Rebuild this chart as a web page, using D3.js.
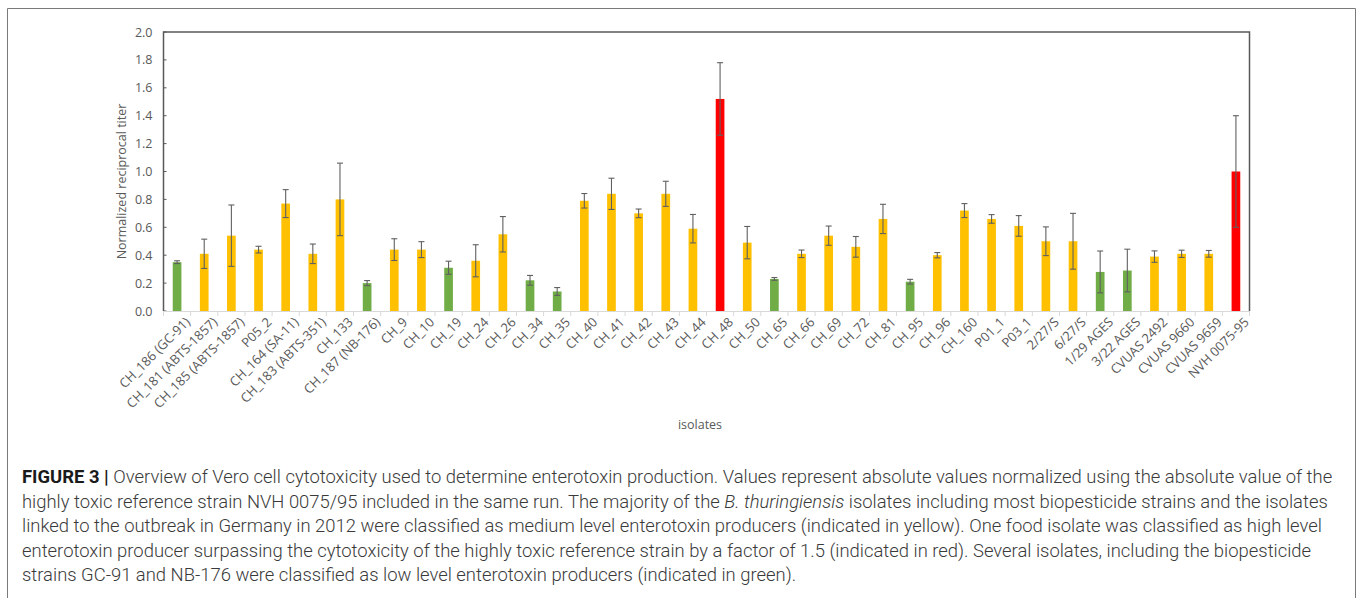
<!DOCTYPE html>
<html>
<head>
<meta charset="utf-8">
<script src="https://cdn.jsdelivr.net/npm/d3@7"></script>
<style>
  body { margin: 0; background: #fff; }
  svg { display: block; }
</style>
</head>
<body>
<svg></svg>
<script>
// размеры страницы
const width = 1358;
const height = 598;

// данные
const isolates = ["CH_186 (GC-91)", "CH_181 (ABTS-1857)", "CH_185 (ABTS-1857)", "P05_2", "CH_164 (SA-11)",
  "CH_183 (ABTS-351)", "CH_133", "CH_187 (NB-176)", "CH_9", "CH_10", "CH_19", "CH_24", "CH_26", "CH_34",
  "CH_35", "CH_40", "CH_41", "CH_42", "CH_43", "CH_44", "CH_48", "CH_50", "CH_65", "CH_66", "CH_69",
  "CH_72", "CH_81", "CH_95", "CH_96", "CH_160", "P01_1", "P03_1", "2/27/S", "6/27/S", "1/29 AGES",
  "3/22 AGES", "CVUAS 2492", "CVUAS 9660", "CVUAS 9659", "NVH 0075-95"];
const titers = [0.35, 0.41, 0.54, 0.44, 0.77, 0.41, 0.80, 0.20, 0.44, 0.44, 0.31, 0.36, 0.55, 0.22,
  0.14, 0.79, 0.84, 0.70, 0.84, 0.59, 1.52, 0.49, 0.23, 0.41, 0.54, 0.46, 0.66, 0.21, 0.40,
  0.72, 0.66, 0.61, 0.50, 0.50, 0.28, 0.29, 0.39, 0.41, 0.41, 1.00];
const errors = [0.01, 0.105, 0.22, 0.024, 0.10, 0.07, 0.26, 0.018, 0.078, 0.057, 0.047, 0.115, 0.127, 0.035,
  0.028, 0.052, 0.112, 0.031, 0.09, 0.102, 0.26, 0.116, 0.01, 0.027, 0.069, 0.074, 0.105, 0.017, 0.019,
  0.05, 0.031, 0.074, 0.103, 0.20, 0.15, 0.153, 0.041, 0.026, 0.024, 0.40];
const levels = ["low", "medium", "medium", "medium", "medium", "medium", "medium", "low", "medium", "medium",
  "low", "medium", "medium", "low", "low", "medium", "medium", "medium", "medium", "medium", "high",
  "medium", "low", "medium", "medium", "medium", "medium", "low", "medium", "medium", "medium", "medium",
  "medium", "medium", "low", "low", "medium", "medium", "medium", "high"];
const yTicks = [0, 0.2, 0.4, 0.6, 0.8, 1.0, 1.2, 1.4, 1.6, 1.8, 2.0];

const levelColor = {low: "#70ad47", medium: "#ffc000", high: "#ff0000"};

const captionLines = [
  [["FIGURE 3 | ", "b"], ["Overview of Vero cell cytotoxicity used to determine enterotoxin production. Values represent absolute values normalized using the absolute value of the", ""]],
  [["highly toxic reference strain NVH 0075/95 included in the same run. The majority of the ", ""], ["B. thuringiensis", "i"], [" isolates including most biopesticide strains and the isolates", ""]],
  [["linked to the outbreak in Germany in 2012 were classified as medium level enterotoxin producers (indicated in yellow). One food isolate was classified as high level", ""]],
  [["enterotoxin producer surpassing the cytotoxicity of the highly toxic reference strain by a factor of 1.5 (indicated in red). Several isolates, including the biopesticide", ""]],
  [["strains GC-91 and NB-176 were classified as low level enterotoxin producers (indicated in green).", ""]]
];

let svg = d3.select("svg")
    .attr("width", width)
    .attr("height", height);

// рамка вокруг рисунка
svg.append("path")
    .attr("d", `M7.5,${height + 5} V8.5 H1355.5 V${height + 5}`)
    .attr("fill", "none")
    .attr("stroke", "#7a7a7a")
    .attr("stroke-width", 1);

const plotLeft = 163.5, plotRight = 1249.5, plotTop = 32, plotBottom = 311;

let x = d3.scaleBand()
    .domain(isolates)
    .range([plotLeft, plotRight])
    .paddingInner(0.68)
    .paddingOuter(0.34);

let y = d3.scaleLinear()
    .domain([0, 2])
    .range([plotBottom, plotTop]);

const axisFont = "'Open Sans', sans-serif";
const axisColor = "#595959";

// ось y
let yAxis = svg.append("g")
    .attr("transform", `translate(${plotLeft},0)`)
    .call(d3.axisLeft(y).tickValues(yTicks).tickFormat(d3.format(".1f")).tickSize(0).tickPadding(11));
yAxis.select(".domain").remove();
yAxis.selectAll("text")
    .attr("fill", axisColor)
    .style("font-family", axisFont)
    .style("font-size", "12.5px");

// маленькие засечки внутрь
svg.append("g").selectAll("line")
    .data(yTicks)
    .join("line")
    .attr("x1", plotLeft)
    .attr("x2", plotLeft + 3)
    .attr("y1", d => y(d))
    .attr("y2", d => y(d))
    .attr("stroke", axisColor);

// ось x
let xAxis = svg.append("g")
    .attr("transform", `translate(0,${plotBottom})`)
    .call(d3.axisBottom(x).tickSize(0).tickPadding(8));
xAxis.select(".domain")
    .attr("stroke", "#d9d9d9");
xAxis.selectAll("text")
    .attr("fill", axisColor)
    .style("font-family", axisFont)
    .style("font-size", "13px")
    .attr("text-anchor", "end")
    .attr("dy", "0.35em")
    .attr("transform", "translate(5,3) rotate(-45)");

// засечки между категориями
const step = x.step();
svg.append("g").selectAll("line")
    .data(d3.range(isolates.length + 1))
    .join("line")
    .attr("x1", i => plotLeft + i * step)
    .attr("x2", i => plotLeft + i * step)
    .attr("y1", plotBottom)
    .attr("y2", plotBottom + 5)
    .attr("stroke", "#d9d9d9");

// рамка области графика
svg.append("path")
    .attr("d", `M${plotLeft},${plotBottom} V${plotTop} H${plotRight} V${plotBottom}`)
    .attr("fill", "none")
    .attr("stroke", axisColor)
    .attr("stroke-width", 1.5);

// столбцы
svg.append("g").selectAll("rect")
    .data(isolates)
    .join("rect")
    .attr("x", d => x(d))
    .attr("y", (d, i) => y(titers[i]))
    .attr("width", x.bandwidth())
    .attr("height", (d, i) => plotBottom - y(titers[i]))
    .attr("fill", (d, i) => levelColor[levels[i]]);

// планки погрешностей
let err = svg.append("g")
    .attr("stroke", "#606060")
    .attr("stroke-width", 1.1);
isolates.forEach((d, i) => {
    const cx = x(d) + x.bandwidth() / 2;
    const y1 = y(titers[i] + errors[i]);
    const y2 = y(Math.max(0, titers[i] - errors[i]));
    err.append("line").attr("x1", cx).attr("x2", cx).attr("y1", y1).attr("y2", y2);
    err.append("line").attr("x1", cx - 3).attr("x2", cx + 3).attr("y1", y1).attr("y2", y1);
    err.append("line").attr("x1", cx - 3).attr("x2", cx + 3).attr("y1", y2).attr("y2", y2);
});

// подписи осей
svg.append("text")
    .attr("transform", `translate(126,${(plotTop + plotBottom) / 2 + 10}) rotate(-90)`)
    .attr("text-anchor", "middle")
    .attr("fill", axisColor)
    .style("font-family", axisFont)
    .style("font-size", "12.5px")
    .text("Normalized reciprocal titer");

svg.append("text")
    .attr("x", 700)
    .attr("y", 429)
    .attr("text-anchor", "middle")
    .attr("fill", axisColor)
    .style("font-family", axisFont)
    .style("font-size", "12.5px")
    .text("isolates");

// подпись рисунка
let caption = svg.append("g")
    .style("font-family", "Roboto, 'Liberation Sans', sans-serif")
    .style("font-weight", 300)
    .attr("fill", "#3a3a3a");

let lines = captionLines.map((parts, li) => {
    let t = caption.append("text")
        .attr("x", 22)
        .attr("y", 483 + li * 24.5);
    parts.forEach(([s, st]) => {
        let ts = t.append("tspan").text(s);
        if (st === "b") ts.style("font-weight", 700).attr("fill", "#1a1a1a");
        if (st === "i") ts.style("font-style", "italic");
    });
    return t;
});

// подгоняем размер шрифта под ширину первой строки
caption.style("font-size", "16px");
const w = lines[0].node().getComputedTextLength();
caption.style("font-size", (16 * 1311 / w) + "px");
</script>
</body>
</html>
